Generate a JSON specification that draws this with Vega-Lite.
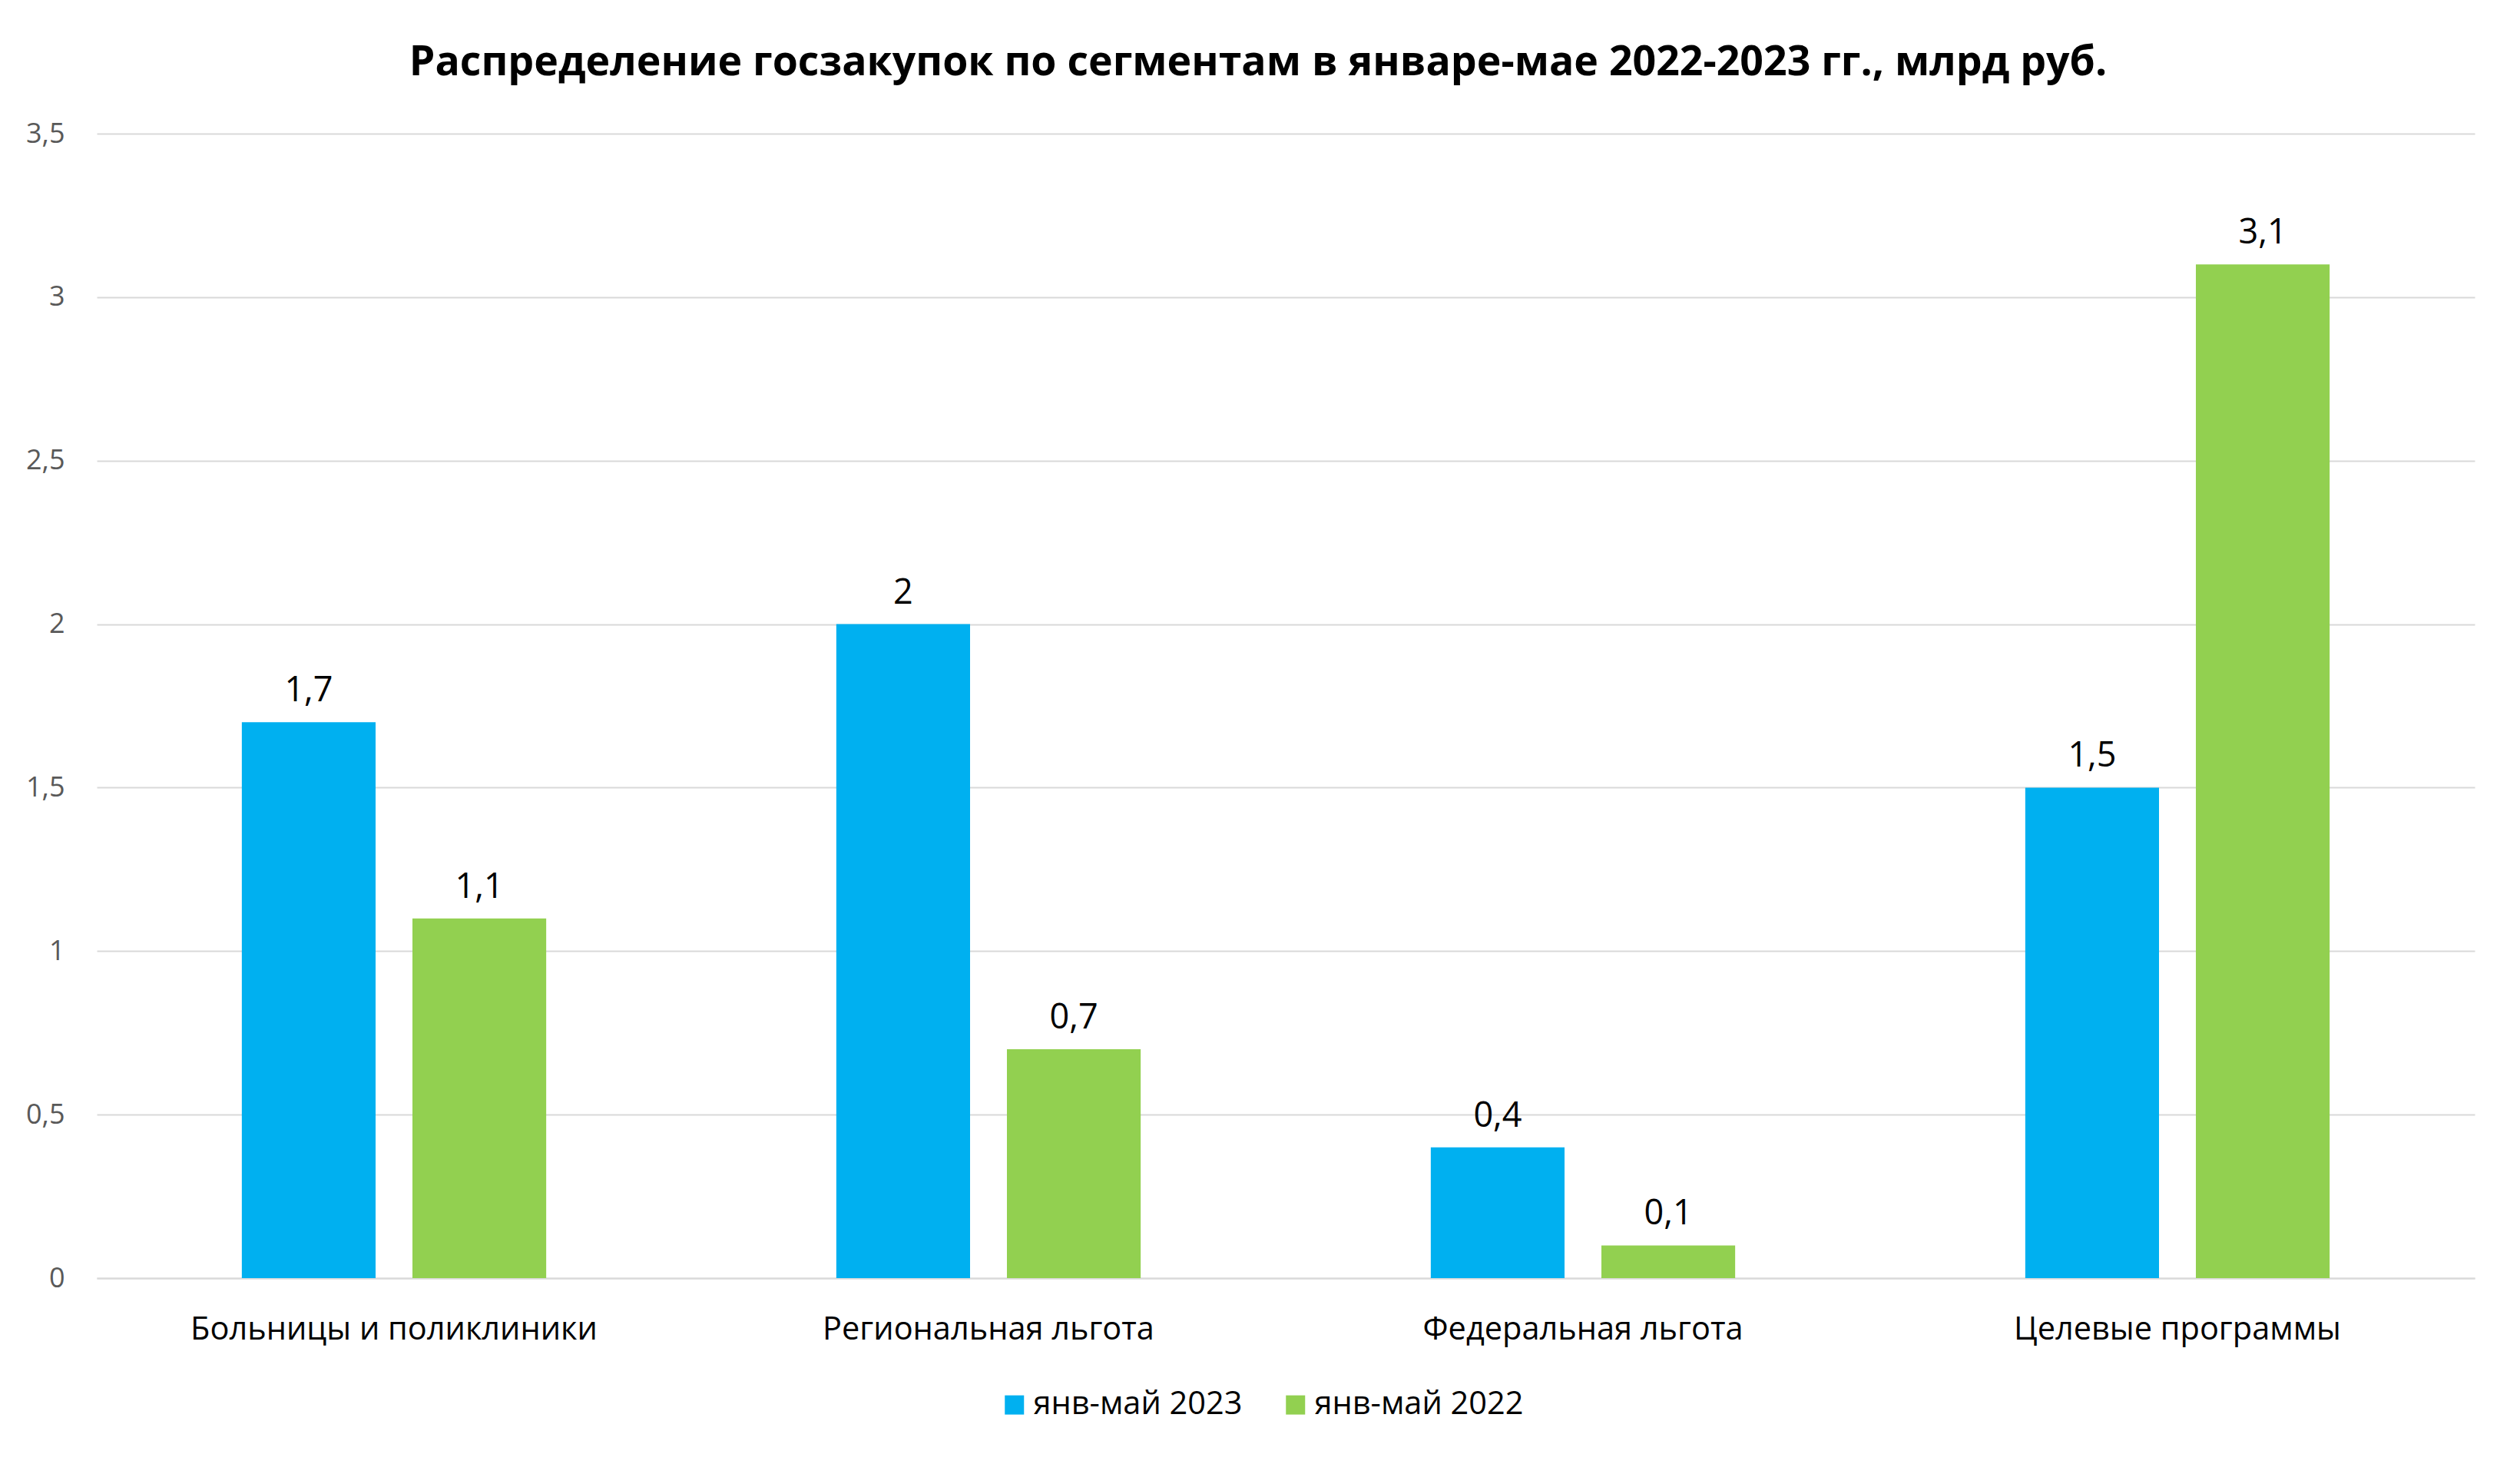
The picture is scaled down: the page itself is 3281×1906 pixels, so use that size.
{
  "$schema": "https://vega.github.io/schema/vega-lite/v6.json",
  "autosize": {"type": "none"},
  "width": 3096,
  "height": 1490,
  "padding": {"left": 126, "top": 174, "right": 59, "bottom": 242},
  "background": "white",
  "config": {
    "locale": {"number": {"decimal": ",", "thousands": " ", "grouping": [3], "currency": ["", ""]}},
    "view": {"stroke": null},
    "font": "Open Sans"
  },
  "title": {
    "text": "Распределение госзакупок по сегментам в январе-мае 2022-2023 гг., млрд руб.",
    "font": "Open Sans",
    "fontSize": 53.6,
    "fontWeight": "bold",
    "color": "black",
    "anchor": "middle",
    "offset": 46,
    "dx": -36
  },
  "data": {
    "values": [
      {"segment": "Больницы и поликлиники", "period": "янв-май 2023", "value": 1.7},
      {"segment": "Больницы и поликлиники", "period": "янв-май 2022", "value": 1.1},
      {"segment": "Региональная льгота", "period": "янв-май 2023", "value": 2.0},
      {"segment": "Региональная льгота", "period": "янв-май 2022", "value": 0.7},
      {"segment": "Федеральная льгота", "period": "янв-май 2023", "value": 0.4},
      {"segment": "Федеральная льгота", "period": "янв-май 2022", "value": 0.1},
      {"segment": "Целевые программы", "period": "янв-май 2023", "value": 1.5},
      {"segment": "Целевые программы", "period": "янв-май 2022", "value": 3.1}
    ]
  },
  "encoding": {
    "x": {
      "field": "segment",
      "type": "nominal",
      "sort": null,
      "title": null,
      "scale": {"paddingInner": 0.488, "paddingOuter": 0.244},
      "axis": {
        "labelAngle": 0,
        "labelFontSize": 41.5,
        "labelColor": "black",
        "labelPadding": 46,
        "labelLimit": 0,
        "ticks": false,
        "domainColor": "#d9d9d9",
        "domainWidth": 2,
        "grid": false
      }
    },
    "y": {
      "field": "value",
      "type": "quantitative",
      "title": null,
      "scale": {"domain": [0, 3.5], "nice": false},
      "axis": {
        "values": [0, 0.5, 1, 1.5, 2, 2.5, 3, 3.5],
        "format": "~g",
        "labelFontSize": 36,
        "labelColor": "#595959",
        "labelPadding": 42,
        "ticks": false,
        "domain": false,
        "gridColor": "#d9d9d9",
        "gridWidth": 2
      }
    },
    "xOffset": {
      "field": "period",
      "type": "nominal",
      "sort": ["янв-май 2023", "янв-май 2022"],
      "scale": {"paddingInner": 0.216, "paddingOuter": 0}
    }
  },
  "layer": [
    {
      "mark": {"type": "bar"},
      "encoding": {
        "color": {
          "field": "period",
          "type": "nominal",
          "sort": ["янв-май 2023", "янв-май 2022"],
          "scale": {"domain": ["янв-май 2023", "янв-май 2022"], "range": ["#00B0F0", "#92D050"]},
          "legend": {
            "title": null,
            "orient": "none",
            "direction": "horizontal",
            "legendX": 1174,
            "legendY": 1634,
            "symbolType": "square",
            "symbolSize": 625,
            "symbolStrokeWidth": 0,
            "labelFontSize": 41.5,
            "labelColor": "black",
            "labelOffset": 4,
            "labelLimit": 0,
            "columnPadding": 48
          }
        }
      }
    },
    {
      "mark": {"type": "text", "baseline": "alphabetic", "dy": -27, "fontSize": 45, "color": "black"},
      "encoding": {
        "text": {"field": "value", "type": "quantitative", "format": "~g"}
      }
    }
  ]
}
